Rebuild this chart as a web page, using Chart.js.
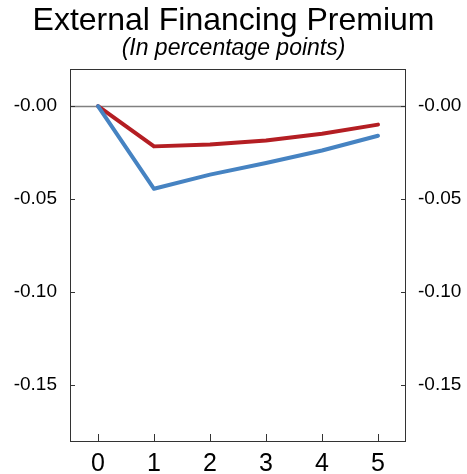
<!DOCTYPE html>
<html>
<head>
<meta charset="utf-8">
<script src="https://cdn.jsdelivr.net/npm/chart.js@4"></script>
<style>
  body { margin: 0; background: #fff; }
  #wrap { width: 467px; height: 474px; }
</style>
</head>
<body>
<div id="wrap"><canvas id="myChart" width="467" height="474"></canvas></div>
<script>
// donnees
const quarters = ["0", "1", "2", "3", "4", "5"];
const blueSeries = [0, -0.0444, -0.0368, -0.0305, -0.0238, -0.0159];
const redSeries = [0, -0.0216, -0.0206, -0.0184, -0.0148, -0.0099];
const yTicks = [-0.15, -0.10, -0.05, 0];

const font = "'Liberation Sans', Arial, sans-serif";

// petits traits de graduation vers l'interieur + cadre + ligne du zero
const innerTicks = {
  id: 'innerTicks',
  beforeDatasetsDraw(chart) {
    const c = chart.ctx;
    const a = chart.chartArea;
    const y = chart.scales.y;
    c.save();
    c.strokeStyle = '#808080';
    c.lineWidth = 1.5;
    const y0 = Math.round(y.getPixelForValue(0)) + 0.5;
    c.beginPath();
    c.moveTo(a.left, y0);
    c.lineTo(a.right, y0);
    c.stroke();
    c.restore();
  },
  afterDraw(chart) {
    const c = chart.ctx;
    const a = chart.chartArea;
    const x = chart.scales.x;
    const y = chart.scales.y;
    c.save();
    c.strokeStyle = '#333';
    c.lineWidth = 1;
    c.strokeRect(a.left + 0.5, a.top + 0.5, a.right - a.left - 1, a.bottom - a.top);
    c.beginPath();
    quarters.forEach((q, i) => {
      const px = Math.round(x.getPixelForValue(i)) + 0.5;
      c.moveTo(px, a.bottom);
      c.lineTo(px, a.bottom - 7);
    });
    yTicks.forEach(v => {
      const py = Math.round(y.getPixelForValue(v)) + 0.5;
      c.moveTo(a.left, py);
      c.lineTo(a.left + 5, py);
      c.moveTo(a.right, py);
      c.lineTo(a.right - 5, py);
    });
    c.stroke();
    c.restore();
  }
};

function yAxis(side, width, pad) {
  return {
    position: side,
    min: -0.18,
    max: 0.02,
    afterBuildTicks: scale => { scale.ticks = yTicks.map(v => ({ value: v })); },
    afterFit: scale => { scale.width = width; },
    grid: { display: false, drawTicks: false },
    border: { display: false },
    ticks: {
      color: '#000',
      padding: pad,
      font: { family: font, size: 19 },
      callback: v => (v === 0 ? '-0.00' : v.toFixed(2))
    }
  };
}

const ctx = document.getElementById('myChart');
const myChart = new Chart(ctx, {
  type: 'line',
  data: {
    labels: quarters,
    datasets: [
      {
        data: blueSeries,
        borderColor: '#4683C2',
        borderWidth: 4,
        pointRadius: 0,
        tension: 0,
        borderCapStyle: 'round',
        borderJoinStyle: 'round'
      },
      {
        data: redSeries,
        borderColor: '#B41E23',
        borderWidth: 4,
        pointRadius: 0,
        tension: 0,
        borderCapStyle: 'round',
        borderJoinStyle: 'round'
      }
    ]
  },
  options: {
    responsive: false,
    animation: false,
    layout: { padding: 0 },
    plugins: {
      legend: { display: false },
      tooltip: { enabled: false },
      title: {
        display: true,
        text: 'External Financing Premium',
        color: '#000',
        font: { family: font, size: 32, weight: 'normal', lineHeight: 1 },
        padding: { top: 5, bottom: 0 }
      },
      subtitle: {
        display: true,
        text: '(In percentage points)',
        color: '#000',
        font: { family: font, size: 23, style: 'italic', lineHeight: 1 },
        padding: { top: 0, bottom: 9 }
      }
    },
    scales: {
      x: {
        offset: true,
        afterFit: scale => { scale.height = 33; },
        grid: { display: false, drawTicks: false, offset: true },
        border: { display: false },
        ticks: {
          color: '#000',
          padding: 8,
          maxRotation: 0,
          font: { family: font, size: 25 }
        }
      },
      y: yAxis('left', 70, 13),
      y2: yAxis('right', 61, 12)
    }
  },
  plugins: [innerTicks]
});
</script>
</body>
</html>
